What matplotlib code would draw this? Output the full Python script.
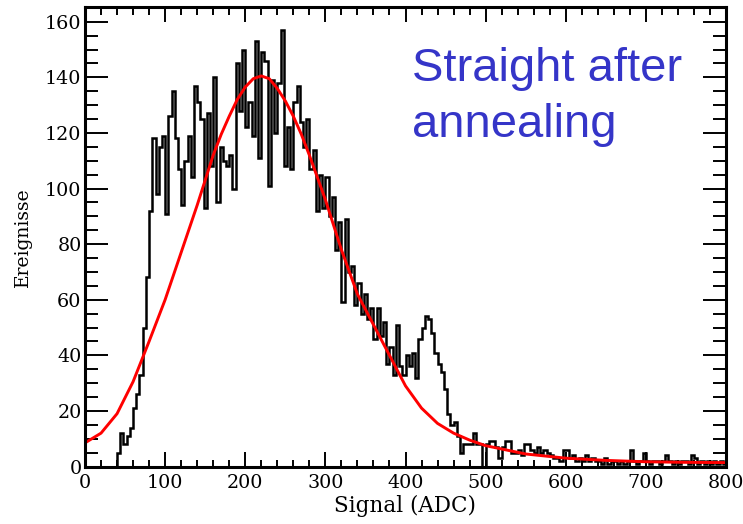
import numpy as np
import matplotlib
matplotlib.use("Agg")
import matplotlib.pyplot as plt
from matplotlib.ticker import MultipleLocator

# ---- data ----
bin_width = 4
counts = [
    0, 0, 0, 0, 0, 0, 0, 0, 0, 0,            # 0-36
    5, 12, 8, 11, 14, 21, 26, 33, 50, 68,     # 40-76
    92, 118, 98, 115, 119, 91, 126, 135, 118, 107,   # 80-116
    94, 110, 119, 104, 137, 131, 125, 93, 127, 108,  # 120-156
    140, 95, 115, 110, 108, 112, 100, 145, 128, 150, # 160-196
    122, 131, 119, 153, 111, 149, 146, 101, 139, 120,# 200-236
    138, 157, 108, 122, 107, 131, 137, 124, 115, 125,# 240-276
    107, 114, 92, 105, 93, 104, 90, 97, 78, 88,      # 280-316
    59, 89, 70, 72, 58, 66, 55, 62, 53, 57,          # 320-356
    46, 57, 47, 52, 37, 43, 33, 51, 36, 33,          # 360-396
    40, 36, 41, 32, 46, 50, 54, 53, 48, 41,          # 400-436
    37, 34, 28, 19, 15, 16, 11, 5, 8, 8,             # 440-476
    8, 12, 8, 8, 0, 8, 9, 9, 7, 3,                   # 480-516
    7, 9, 9, 5, 5, 6, 4, 8, 8, 6,                    # 520-556
    5, 7, 5, 6, 5, 4, 3, 3, 2, 6,                    # 560-596
    6, 3, 4, 2, 3, 2, 4, 2, 3, 2,                    # 600-636
    2, 1, 3, 1, 2, 2, 1, 2, 1, 2,                    # 640-676
    6, 2, 1, 2, 5, 2, 1, 2, 2, 1,                    # 680-716
    2, 4, 2, 1, 2, 1, 2, 2, 1, 4,                    # 720-756
    3, 1, 2, 1, 2, 1, 2, 1, 2, 1,                    # 760-796
]
edges = np.arange(0, bin_width * len(counts) + 1, bin_width)

fit_x = [0, 20, 40, 60, 80, 100, 120, 140, 160, 170, 180, 190, 200, 210, 220, 230, 240,
         250, 260, 270, 280, 300, 320, 340, 360, 380, 400, 420, 440, 460, 480, 500,
         550, 600, 650, 700, 750, 800]
fit_y = [8.5, 12, 19, 30.5, 45, 60, 77, 94, 112, 119.5, 126, 132, 136.5, 139.5, 140.5, 139.5, 136,
         131.5, 126, 119.5, 112, 96, 78, 62, 51, 40, 29, 21, 15.5, 12, 9.5, 7.5,
         4.5, 3, 2.2, 1.7, 1.5, 1.4]

x_ticks = [0, 100, 200, 300, 400, 500, 600, 700, 800]
y_ticks = [0, 20, 40, 60, 80, 100, 120, 140, 160]

# ---- figure ----
W, H = 743, 524
fig = plt.figure(figsize=(W / 100, H / 100), dpi=100)
ax = fig.add_axes([85 / W, 1 - 466.5 / H, 641 / W, 459.5 / H])

ax.stairs(counts, edges, color="black", lw=1.8, baseline=0)
ax.plot(fit_x, fit_y, color="#ff0000", lw=2.1)

ax.set_xlim(0, 800)
ax.set_ylim(0, 165.3)
ax.set_xticks(x_ticks)
ax.set_yticks(y_ticks)
ax.xaxis.set_minor_locator(MultipleLocator(20))
ax.yaxis.set_minor_locator(MultipleLocator(5))

serif = "DejaVu Serif"
ax.tick_params(axis="both", which="both", direction="in", top=True, right=True,
               width=1.4, colors="black")
ax.tick_params(axis="x", which="major", length=10.8, pad=5.5)
ax.tick_params(axis="x", which="minor", length=5.4)
ax.tick_params(axis="y", which="major", length=16.5, pad=2.5)
ax.tick_params(axis="y", which="minor", length=9.4)
for lab in ax.get_xticklabels() + ax.get_yticklabels():
    lab.set_fontfamily(serif)
    lab.set_fontsize(13.8)

for sp in ax.spines.values():
    sp.set_linewidth(2.2)

ax.set_xlabel("Signal (ADC)", fontfamily=serif, fontsize=15.5)
ax.xaxis.set_label_coords(0.5, -0.062)
ax.set_ylabel("Ereignisse", fontfamily=serif, fontsize=13.5)
ax.yaxis.set_label_coords(-0.083, 0.5)

fig.text(412 / W, 1 - 137 / H, "Straight after\nannealing", color="#3535c8",
         fontfamily="Liberation Sans", fontsize=34, ha="left", va="baseline",
         linespacing=1.36)

fig.savefig("out.png", dpi=100)
